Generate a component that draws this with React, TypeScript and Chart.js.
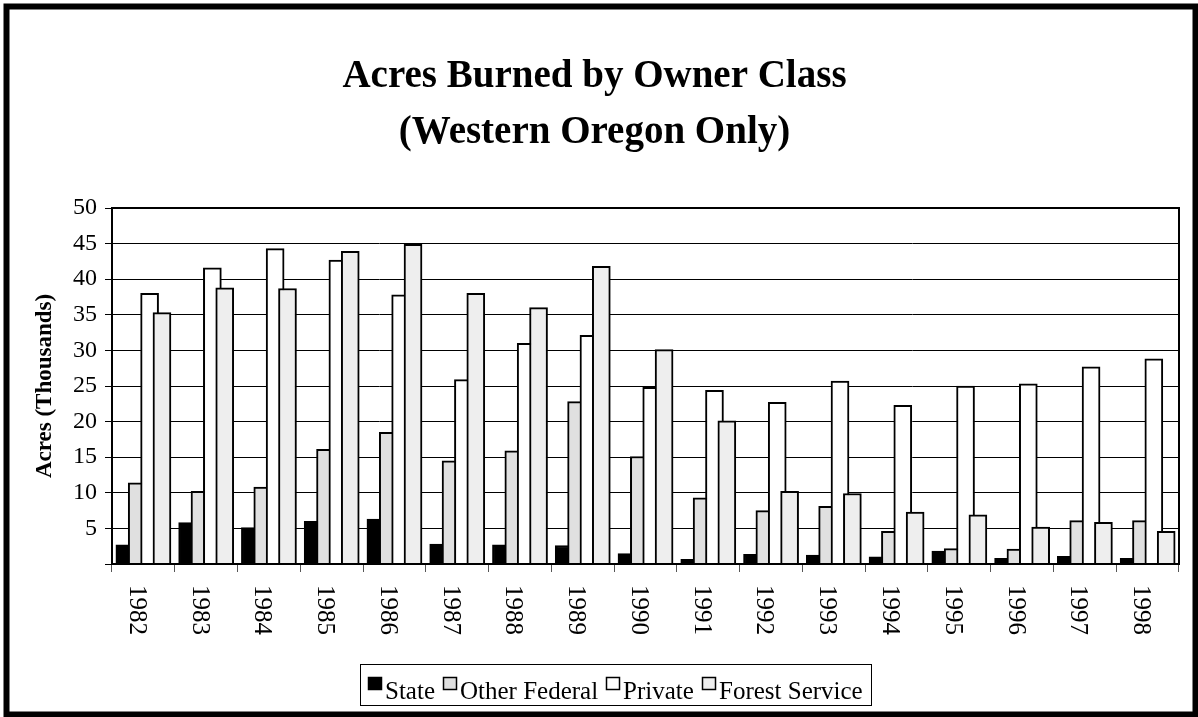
import React, { useEffect, useRef } from 'react';
import { Chart, registerables } from 'chart.js';

Chart.register(...registerables);

const years = ['1982', '1983', '1984', '1985', '1986', '1987', '1988', '1989', '1990', '1991', '1992', '1993', '1994', '1995', '1996', '1997', '1998'];
const stateAcres = [2.7, 5.8, 5.1, 6.0, 6.3, 2.8, 2.7, 2.6, 1.45, 0.66, 1.36, 1.26, 1.0, 1.8, 0.8, 1.08, 0.8];
const otherFederalAcres = [11.4, 10.2, 10.8, 16.1, 18.5, 14.5, 15.9, 22.8, 15.1, 9.3, 7.5, 8.1, 4.6, 2.15, 2.1, 6.1, 6.1];
const privateAcres = [38.0, 41.6, 44.3, 42.7, 37.8, 25.9, 31.0, 32.1, 24.8, 24.4, 22.7, 25.7, 22.3, 25.0, 25.3, 27.7, 28.8];
const forestServiceAcres = [35.3, 38.8, 38.7, 43.9, 44.9, 38.0, 36.0, 41.8, 30.1, 20.1, 10.2, 9.9, 7.3, 6.9, 5.2, 5.85, 4.6];
const seriesNames = ['State', 'Other Federal', 'Private', 'Forest Service'];
const seriesColors = ['#000000', '#e0e0e0', '#ffffff', '#eeeeee'];
const yMin = 0;
const yMax = 50;
const yStep = 5;
const titleLines = ['Acres Burned by Owner Class', '(Western Oregon Only)'];
const yTitle = 'Acres (Thousands)';

const FONT = '"Liberation Serif", "Times New Roman", serif';
const W = 1198;
const H = 717;
const barOffsets = [-0.295, -0.098, 0.099, 0.296];

const decor = {
  id: 'decor',
  afterDraw(chart: any) {
    const { ctx, chartArea: a } = chart;
    const xs = chart.scales.x;
    ctx.save();
    // plot frame
    ctx.strokeStyle = '#000';
    ctx.lineWidth = 2;
    ctx.strokeRect(a.left, a.top, a.right - a.left, a.bottom - a.top);

    // rotated year labels (reading downward)
    ctx.fillStyle = '#000';
    ctx.font = `25px ${FONT}`;
    ctx.textAlign = 'left';
    ctx.textBaseline = 'middle';
    years.forEach((yr, i) => {
      const px = xs.getPixelForValue(i);
      ctx.save();
      ctx.translate(px - 7, a.bottom + 21);
      ctx.rotate(Math.PI / 2);
      ctx.fillText(yr, 0, 0);
      ctx.restore();
    });

    // legend
    ctx.font = `25px ${FONT}`;
    ctx.textBaseline = 'alphabetic';
    const boxW = 14, boxH = 13, gapText = 3, gapItem = 8;
    const widths = seriesNames.map((n) => ctx.measureText(n).width);
    let total = 0;
    widths.forEach((w, i) => {
      total += boxW + gapText + w + (i < widths.length - 1 ? gapItem : 0);
    });
    const cx = 615;
    let x = cx - total / 2;
    const baseY = 699;
    ctx.lineWidth = 1;
    ctx.strokeStyle = '#000';
    ctx.strokeRect(Math.round(x - 8) + 0.5, 664.5, Math.round(total + 16), 41);
    seriesNames.forEach((n, i) => {
      const bx = Math.round(x);
      ctx.fillStyle = seriesColors[i];
      ctx.fillRect(bx, 677, boxW, boxH);
      ctx.strokeStyle = '#000';
      ctx.lineWidth = 1.5;
      ctx.strokeRect(bx + 0.5, 677.5, boxW - 1, boxH - 1);
      ctx.fillStyle = '#000';
      ctx.fillText(n, bx + boxW + gapText, baseY);
      x += boxW + gapText + widths[i] + gapItem;
    });

    // outer frame
    ctx.strokeStyle = '#000';
    ctx.lineWidth = 6;
    ctx.strokeRect(6.5, 6.5, 1189, 708);
    ctx.restore();
  },
};

export default function App() {
  const ref = useRef<HTMLCanvasElement | null>(null);

  useEffect(() => {
    if (!ref.current) return;
    const valueSets = [stateAcres, otherFederalAcres, privateAcres, forestServiceAcres];
    const datasets = valueSets.map((vals, k) => ({
      type: 'bar' as const,
      label: seriesNames[k],
      data: vals.map((v, i) => ({ x: i + barOffsets[k], y: v })),
      backgroundColor: seriesColors[k],
      borderColor: '#000000',
      borderWidth: 2,
      borderSkipped: 'start' as const,
      barThickness: 18,
      grouped: false,
      xAxisID: 'xb',
      yAxisID: 'y',
      order: 3 - k,
    }));

    const chart = new Chart(ref.current, {
      type: 'bar',
      data: { labels: years, datasets: datasets as any },
      options: {
        responsive: false,
        animation: false,
        events: [],
        layout: { padding: { left: 10, right: 19, top: 0, bottom: 93 } },
        plugins: {
          legend: { display: false },
          tooltip: { enabled: false },
          title: {
            display: true,
            text: titleLines,
            color: '#000',
            font: { family: FONT, size: 39, weight: 'bold', lineHeight: 56 / 39 },
            padding: { top: 49, bottom: 47 },
          },
        },
        scales: {
          x: {
            type: 'category',
            offset: true,
            position: 'bottom',
            grid: {
              offset: true,
              drawOnChartArea: false,
              drawTicks: true,
              tickLength: 8,
              color: '#555',
              lineWidth: 1,
            },
            border: { display: true, color: '#000', width: 2 },
            ticks: { display: false },
            afterFit: (s: any) => {
              s.height = 60;
            },
          },
          xb: {
            type: 'linear',
            display: false,
            offset: false,
            min: -0.5,
            max: years.length - 0.5,
          },
          y: {
            type: 'linear',
            min: yMin,
            max: yMax,
            position: 'left',
            grid: { color: '#000', lineWidth: 1, tickLength: 7, drawTicks: true },
            border: { display: true, color: '#000', width: 2 },
            ticks: {
              stepSize: yStep,
              color: '#000',
              padding: 8,
              font: { family: FONT, size: 24 },
              callback: (v: any) => (Number(v) === 0 ? '' : String(v)),
            },
            title: {
              display: true,
              text: yTitle,
              color: '#000',
              font: { family: FONT, size: 23, weight: 'bold' },
              padding: { top: 21, bottom: 0 },
            },
            afterFit: (s: any) => {
              s.width = 102;
            },
          },
        },
      },
      plugins: [decor],
    });
    return () => chart.destroy();
  }, []);

  return (
    <div style={{ position: 'absolute', left: 0, top: 0, width: W, height: H, background: '#fff' }}>
      <canvas ref={ref} width={W} height={H} style={{ display: 'block', width: W, height: H }} />
    </div>
  );
}
